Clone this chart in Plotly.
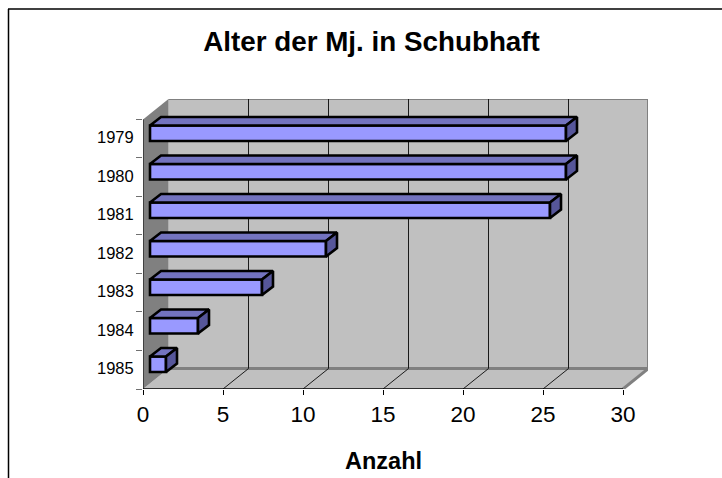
import plotly.graph_objects as go

years = ["1979", "1980", "1981", "1982", "1983", "1984", "1985"]
counts = [26, 26, 25, 11, 7, 3, 1]
x_ticks = [0, 5, 10, 15, 20, 25, 30]

title_text = "Alter der Mj. in Schubhaft"
axis_title = "Anzahl"

W, H = 722, 478
L, R, T, B = 143, 648, 99, 389      # plot box in pixels
PX_X = 16.0                          # pixels per count
BAND = 270 / 7                       # pixels per category
DX, DY = 25.5 / PX_X, 20.5 / BAND    # depth of the chart box in axis units
BAR_BASE = 7 / PX_X                  # gap between wall and bar
BAR_DX, BAR_DY = 11 / PX_X, 8.5 / BAND
BAR_W = 15.5 / BAND
BAR_SHIFT = -5.5 / BAND
LABEL_SHIFT = -1.5 / BAND

y_lo, y_hi = -0.5, 6.5
x_max, y_top = 30, y_lo - DY
GRID = "#1a1a1a"
WALL = "#C0C0C0"
EDGE = "#808080"
positions = list(range(len(years)))


def path(points):
    return "M " + " L ".join(f"{x},{y}" for x, y in points) + " Z"


def shape(points, fill):
    return dict(type="path", xref="x", yref="y", layer="below", path=path(points),
                fillcolor=fill, line=dict(color=fill, width=0))


def seg(x0, y0, x1, y1, color, width):
    return dict(type="line", xref="x", yref="y", layer="below", x0=x0, y0=y0, x1=x1, y1=y1,
                line=dict(color=color, width=width))


shapes = [
    dict(type="line", xref="paper", yref="paper", x0=(8.5 - L) / (R - L), x1=(8.5 - L) / (R - L),
         y0=-0.5, y1=(B - 9) / (B - T), line=dict(color="black", width=1.5)),
    dict(type="line", xref="paper", yref="paper", x0=(8 - L) / (R - L), x1=(W - L) / (R - L),
         y0=(B - 9) / (B - T), y1=(B - 9) / (B - T), line=dict(color="black", width=1.5)),
    shape([(DX, y_top), (x_max + DX, y_top), (x_max + DX, y_hi - DY), (DX, y_hi - DY)], WALL),
    shape([(0, y_hi), (x_max, y_hi), (x_max + DX, y_hi - DY), (DX, y_hi - DY)], WALL),
    shape([(0, y_lo), (DX, y_top), (DX, y_hi - DY), (0, y_hi)], EDGE),
    seg(DX, y_top, x_max + DX, y_top, EDGE, 2),
    seg(x_max + DX, y_top, x_max + DX, y_hi - DY, EDGE, 3),
    seg(x_max + DX, y_hi - DY, x_max, y_hi, EDGE, 3),
    seg(DX, y_hi - DY, x_max + DX, y_hi - DY, EDGE, 3),
]
for t in x_ticks[1:-1]:
    shapes.append(seg(t + DX, y_top, t + DX, y_hi - DY, GRID, 1))
    shapes.append(seg(t, y_hi, t + DX, y_hi - DY, GRID, 1))
shapes.append(seg(0, y_lo, 0, y_hi, "black", 1))
shapes.append(seg(0, y_hi, x_max, y_hi, "black", 1.5))


def faces(kind):
    xs, ys = [], []
    for i, v in zip(positions, counts):
        x0 = BAR_BASE
        x1 = BAR_BASE + v
        top = i + BAR_SHIFT - BAR_W / 2
        bot = i + BAR_SHIFT + BAR_W / 2
        if kind == "top":
            xs += [x0, x1, x1 + BAR_DX, x0 + BAR_DX, x0, None]
            ys += [top, top, top - BAR_DY, top - BAR_DY, top, None]
        else:
            xs += [x1, x1 + BAR_DX, x1 + BAR_DX, x1, x1, None]
            ys += [top, top - BAR_DY, bot - BAR_DY, bot, top, None]
    return xs, ys


fig = go.Figure()
fig.add_bar(y=positions, x=counts, base=BAR_BASE, orientation="h",
            offset=BAR_SHIFT - BAR_W / 2, width=BAR_W,
            marker=dict(color="#9999FF", line=dict(color="black", width=2.6)))
for kind, color in (("top", "#7373BF"), ("side", "#56569A")):
    xs, ys = faces(kind)
    fig.add_scatter(x=xs, y=ys, mode="lines", fill="toself", fillcolor=color,
                    line=dict(color="black", width=2.6), hoverinfo="skip")

font = "Liberation Sans, Arial, sans-serif"
fig.update_layout(
    width=W, height=H, margin=dict(l=L, r=W - R, t=T, b=H - B),
    paper_bgcolor="white", plot_bgcolor="rgba(0,0,0,0)", showlegend=False,
    font=dict(family=font, color="black"), shapes=shapes,
    title=dict(text=f"<b>{title_text}</b>", x=371.5 / W, xanchor="center", xref="container",
               y=1 - 41 / H, yanchor="middle", yref="container", font=dict(size=27.8, family=font)),
    annotations=[dict(text=f"<b>{axis_title}</b>", xref="paper", yref="paper", showarrow=False,
                      x=(383 - L) / (R - L), y=(B - 461) / (B - T), xanchor="center", yanchor="middle",
                      font=dict(size=23.5, family=font))],
    xaxis=dict(range=[0, (R - L) / PX_X], tickmode="array", tickvals=x_ticks,
               ticks="outside", ticklen=5, tickcolor="black", tickwidth=1,
               showgrid=False, zeroline=False, showline=False,
               tickfont=dict(size=22.5, family=font)),
    yaxis=dict(range=[y_hi, y_top], tickmode="array",
               tickvals=[p + LABEL_SHIFT for p in positions], ticktext=years,
               ticks="outside", ticklen=5, tickcolor="rgba(0,0,0,0)", tickwidth=1,
               minor=dict(tickmode="array", tickvals=[p - 0.5 for p in positions] + [y_hi],
                          ticks="outside", ticklen=6, tickcolor="#707070", tickwidth=1, showgrid=False),
               showgrid=False, zeroline=False, showline=False,
               tickfont=dict(size=16.5, family=font)),
)

fig.write_html("out.html", config=dict(displayModeBar=False),
               post_script="document.body.style.margin='0';document.body.style.overflow='hidden';")
